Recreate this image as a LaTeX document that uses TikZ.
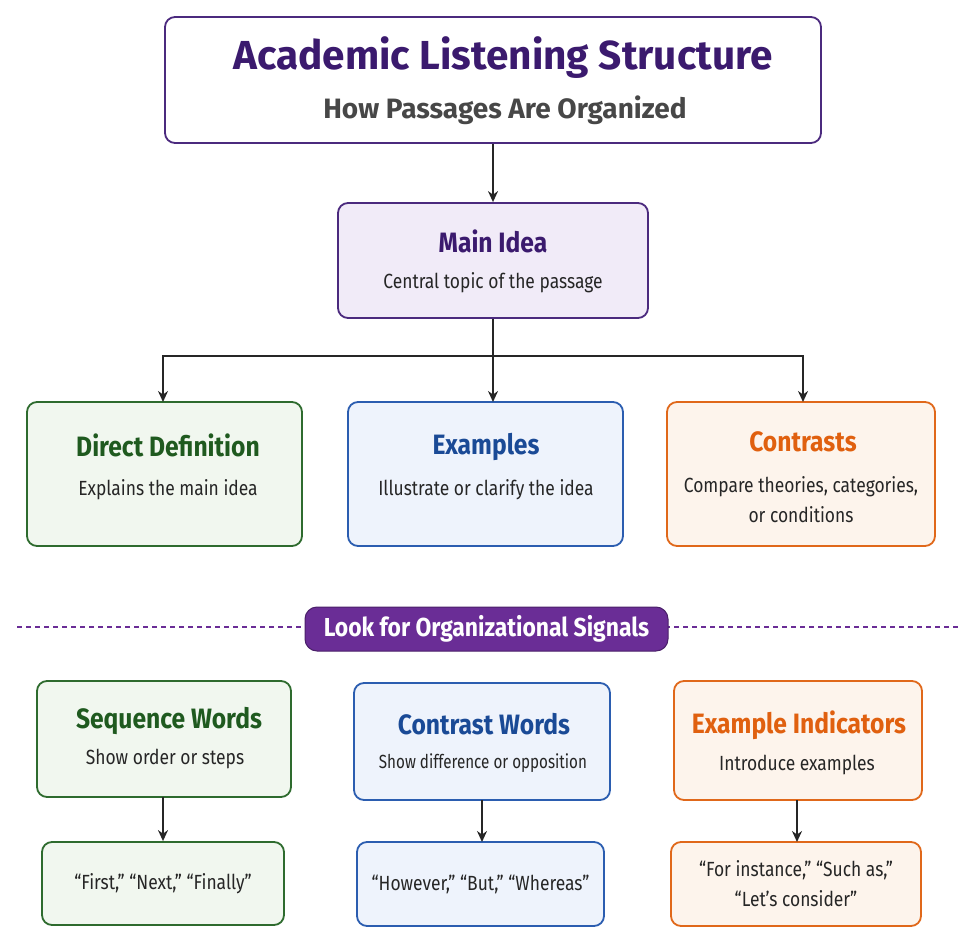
\documentclass[tikz,border=0pt]{standalone}
\usepackage{fontspec}
\setmainfont{Fira Sans}
\usetikzlibrary{arrows.meta}
\definecolor{pur}{HTML}{3B1A6E}
\definecolor{purb}{HTML}{4B2A7E}
\definecolor{purf}{HTML}{F1EBF8}
\definecolor{pill}{HTML}{6A2D96}
\definecolor{gb}{HTML}{2E6B2E}\definecolor{gf}{HTML}{F1F7EF}\definecolor{gt}{HTML}{1F5A1F}
\definecolor{bb}{HTML}{2B5DB0}\definecolor{bf}{HTML}{EEF3FC}\definecolor{bt}{HTML}{1A4A96}
\definecolor{ob}{HTML}{E0681A}\definecolor{of}{HTML}{FDF4EC}\definecolor{ot}{HTML}{E0600F}
\begin{document}
\begin{tikzpicture}[x=1pt,y=-1pt,
 box/.style={draw,line width=1.8pt,rounded corners=10pt,inner sep=0pt},
 ttl/.style={font=\fontsize{28}{32}\selectfont\bfseries\addfontfeatures{FakeStretch=0.88}},
 txt/.style={font=\fontsize{20.5}{30}\selectfont\addfontfeatures{FakeStretch=0.85},text=black!85,align=center},
 arr/.style={-{Stealth[length=11pt,width=10pt]},line width=1.8pt,black!85}]
\useasboundingbox (0,0) rectangle (975,944);
% title
\node[box,draw=purb,fill=white,minimum width=656pt,minimum height=126pt] (T) at (493,80) {};
\node[font=\fontsize{40.5}{46}\selectfont\bfseries,text=pur] (Tt) at (503,58) {Academic Listening Structure};
\node[font=\fontsize{28}{32}\selectfont\bfseries,text=black!72] (Ts) at (505,110) {How Passages Are Organized};
% main
\node[box,draw=purb,fill=purf,minimum width=310pt,minimum height=115pt] (M) at (493,260.5) {};
\node[ttl,text=pur] (Mt) at (493,241) {Main Idea};
\node[txt] (Ms) at (493,283) {Central topic of the passage};
\draw[arr] (T.south) -- (M.north);
% row 1
\node[box,draw=gb,fill=gf,minimum width=275pt,minimum height=144pt] (A) at (164.5,474) {};
\node[ttl,text=gt] (At) at (168,445) {Direct Definition};
\node[txt] (As) at (168,490) {Explains the main idea};
\node[box,draw=bb,fill=bf,minimum width=275pt,minimum height=144pt] (B) at (485.5,474) {};
\node[ttl,text=bt] (Bt) at (486,447) {Examples};
\node[txt] (Bs) at (486,490) {Illustrate or clarify the idea};
\node[box,draw=ob,fill=of,minimum width=268pt,minimum height=144pt] (C) at (801,474) {};
\node[ttl,text=ot] (Ct) at (803,442) {Contrasts};
\node[txt] (Cs) at (801,500) {Compare theories, categories,\\or conditions};
\coordinate (J) at (493,356);
\draw[line width=1.8pt,black!85] (M.south) -- (J);
\draw[arr] (J) -| (163,402);
\draw[arr] (J) -- (493,402);
\draw[arr] (J) -| (803,402);
% divider
\draw[pill,line width=1.8pt,dash pattern=on 5pt off 4pt] (17,627) -- (958,627);
\node[draw=pill!70!black,line width=1pt,fill=pill,rounded corners=12pt,minimum width=363pt,minimum height=44pt,text=white,font=\fontsize{26}{30}\selectfont\bfseries\addfontfeatures{FakeStretch=0.88}] (P) at (486.5,629) {Look for Organizational Signals};
% row 2
\node[box,draw=gb,fill=gf,minimum width=254pt,minimum height=116pt] (D) at (164,739) {};
\node[ttl,text=gt] (Dt) at (169,721) {Sequence Words};
\node[txt] (Ds) at (165,759) {Show order or steps};
\node[box,draw=bb,fill=bf,minimum width=256pt,minimum height=117pt] (E) at (482,741.5) {};
\node[ttl,text=bt] (Et) at (484,724) {Contrast Words};
\node[txt,font=\fontsize{19}{24}\selectfont\addfontfeatures{FakeStretch=0.8}] (Es) at (483,763) {Show difference or opposition};
\node[box,draw=ob,fill=of,minimum width=248pt,minimum height=119pt] (F) at (798,740.5) {};
\node[ttl,text=ot] (Ft) at (799,725) {Example Indicators};
\node[txt] (Fs) at (797,765) {Introduce examples};
% row 3
\node[box,draw=gb,fill=gf,minimum width=242pt,minimum height=83pt,txt] (G) at (163,883.5) {“First,” “Next,” “Finally”};
\node[box,draw=bb,fill=bf,minimum width=247pt,minimum height=84pt,txt] (H) at (480.5,884) {“However,” “But,” “Whereas”};
\node[box,draw=ob,fill=of,minimum width=250pt,minimum height=84pt,txt] (K) at (796,884) {“For instance,” “Such as,”\\“Let’s consider”};
\draw[arr] (163,797) -- (G.north);
\draw[arr] (482,800) -- (482,842);
\draw[arr] (797,800) -- (797,842);
\end{tikzpicture}
\end{document}
